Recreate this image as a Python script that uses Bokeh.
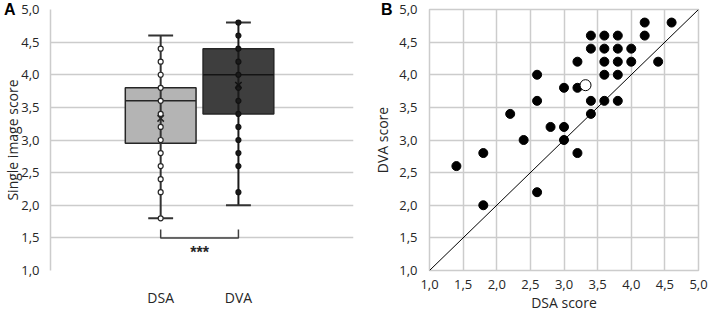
from bokeh.plotting import figure
from bokeh.layouts import row
from bokeh.models import Range1d, FixedTicker, CustomJSTickFormatter, LinearAxis
from bokeh.embed import file_html
from bokeh.resources import INLINE

# ---------------- Panel A data (box plots) ----------------
categories = ["DSA", "DVA"]
cat_pos = [1.0, 2.0]
q1 = [2.95, 3.4]
median = [3.6, 4.0]
q3 = [3.8, 4.4]
whisker_low = [1.8, 2.0]
whisker_high = [4.6, 4.8]
means = [3.33, 3.84]
dsa_points = [1.8, 2.2, 2.4, 2.6, 2.8, 3.0, 3.2, 3.4, 3.6, 3.8, 4.0, 4.2, 4.4]
dva_points = [2.2, 2.6, 2.8, 3.0, 3.2, 3.4, 3.6, 3.8, 4.0, 4.2, 4.4, 4.6, 4.8]
significance = "***"
sig_level = 1.5

# ---------------- Panel B data (scatter) ----------------
dsa_score = [1.4, 1.8, 1.8, 2.2, 2.4, 2.6, 2.6, 2.6, 2.8, 3.0, 3.0, 3.0,
             3.2, 3.2, 3.2, 3.4, 3.4, 3.4, 3.4, 3.6, 3.6, 3.6, 3.6, 3.6,
             3.8, 3.8, 3.8, 3.8, 3.8, 4.0, 4.0, 4.2, 4.2, 4.4, 4.6]
dva_score = [2.6, 2.8, 2.0, 3.4, 3.0, 4.0, 3.6, 2.2, 3.2, 3.8, 3.2, 3.0,
             4.2, 3.8, 2.8, 4.6, 4.4, 3.6, 3.4, 4.6, 4.4, 4.2, 4.0, 3.6,
             4.6, 4.4, 4.2, 4.0, 3.6, 4.4, 4.2, 4.8, 4.6, 4.2, 4.8]
mean_dsa = [3.32]
mean_dva = [3.84]
identity = [1.0, 5.0]
score_ticks = [1.0, 1.5, 2.0, 2.5, 3.0, 3.5, 4.0, 4.5, 5.0]
panel_letters = ["A", "B"]

FONT = "Open Sans"
TXT = "#262626"
GRID = "#cccccc"
EDGE = "#262626"
comma_fmt = CustomJSTickFormatter(code="return tick.toFixed(1).replace('.', ',');")


def style_axis(ax, label_size="13px"):
    ax.major_label_text_font = FONT
    ax.major_label_text_font_size = label_size
    ax.major_label_text_color = TXT
    ax.axis_label_text_font = FONT
    ax.axis_label_text_font_size = "14px"
    ax.axis_label_text_font_style = "normal"
    ax.axis_label_text_color = TXT
    ax.major_tick_line_color = None
    ax.minor_tick_line_color = None
    ax.major_tick_out = 0
    ax.major_tick_in = 0
    ax.minor_tick_out = 0
    ax.minor_tick_in = 0


def letter_axis(letter, standoff):
    # an extra outer left axis whose only tick label is the panel letter, level with the top tick
    ax = LinearAxis(ticker=FixedTicker(ticks=[score_ticks[-1]], minor_ticks=[]),
                    formatter=CustomJSTickFormatter(args=dict(letter=letter), code="return letter;"))
    style_axis(ax)
    ax.axis_line_color = None
    ax.major_label_standoff = standoff
    ax.major_label_text_font = "Liberation Sans"
    ax.major_label_text_font_style = "bold"
    ax.major_label_text_font_size = "16px"
    ax.major_label_text_color = "black"
    return ax


# ================= Panel A =================
p1 = figure(width=354, height=314, x_range=Range1d(-0.417, 3.48), y_range=Range1d(1, 5),
            output_backend="svg", toolbar_location=None,
            min_border_left=49, min_border_right=1, min_border_top=9, min_border_bottom=43)
p1.outline_line_color = None
p1.xgrid.visible = False
p1.ygrid.grid_line_color = GRID
p1.ygrid.grid_line_width = 1.5
style_axis(p1.yaxis[0])
style_axis(p1.xaxis[0], "14px")
p1.yaxis.ticker = FixedTicker(ticks=score_ticks, minor_ticks=[])
p1.yaxis.formatter = comma_fmt
p1.yaxis.axis_line_color = GRID
p1.yaxis.axis_line_width = 1.5
p1.yaxis.major_label_standoff = 11
p1.yaxis.axis_label = "Single image score"
p1.yaxis.axis_label_standoff = -4
p1.xaxis.ticker = FixedTicker(ticks=cat_pos, minor_ticks=[])
p1.xaxis.formatter = CustomJSTickFormatter(args=dict(pos=cat_pos, names=categories),
                                           code="const i = pos.indexOf(tick); return i >= 0 ? names[i] : '';")
p1.xaxis.axis_line_color = None
p1.xaxis.major_label_standoff = 17
p1.add_layout(letter_axis(panel_letters[0], -15), "left")

box_w = 0.91
cap_w = 0.32
p1.vbar(x=cat_pos, width=box_w, bottom=q1, top=q3,
        fill_color=["#b4b4b4", "#3e3e3e"], line_color=EDGE, line_width=1.5)
p1.segment(x0=[c - box_w / 2 for c in cat_pos], x1=[c + box_w / 2 for c in cat_pos],
           y0=median, y1=median, line_color=["#262626", "#141414"], line_width=1.5)
p1.segment(x0=cat_pos, x1=cat_pos, y0=whisker_low, y1=whisker_high,
           line_color=["#333333", "#1a1a1a"], line_width=2)
p1.segment(x0=[c - cap_w / 2 for c in cat_pos], x1=[c + cap_w / 2 for c in cat_pos],
           y0=whisker_low, y1=whisker_low, line_color="#333333", line_width=2)
p1.segment(x0=[c - cap_w / 2 for c in cat_pos], x1=[c + cap_w / 2 for c in cat_pos],
           y0=whisker_high, y1=whisker_high, line_color="#333333", line_width=2)
p1.scatter(x=[cat_pos[0]] * len(dsa_points), y=dsa_points, size=5,
           fill_color="white", line_color="#262626", line_width=1.2)
p1.scatter(x=[cat_pos[1]] * len(dva_points), y=dva_points, size=5,
           fill_color="#1a1a1a", line_color="#111111", line_width=1.2)
p1.scatter(x=cat_pos, y=means, marker="x", size=9, line_color=["#262626", "#111111"], line_width=1.5)

# significance bracket
p1.line(x=[cat_pos[0], cat_pos[0], cat_pos[1], cat_pos[1]],
        y=[sig_level + 0.13, sig_level, sig_level, sig_level + 0.13],
        line_color="#404040", line_width=1.5)
p1.text(x=[sum(cat_pos) / 2], y=[sig_level - 0.22], text=[significance],
        text_align="center", text_baseline="middle", text_font_size="16px",
        text_font_style="bold", text_color="#262626")

# ================= Panel B =================
p2 = figure(width=354, height=314, x_range=Range1d(1, 5), y_range=Range1d(1, 5),
            output_backend="svg", toolbar_location=None,
            min_border_left=75, min_border_right=10, min_border_top=9, min_border_bottom=43)
p2.outline_line_color = GRID
p2.outline_line_width = 1.5
for g in (p2.xgrid[0], p2.ygrid[0]):
    g.grid_line_color = GRID
    g.grid_line_width = 1.5
for ax in (p2.xaxis[0], p2.yaxis[0]):
    style_axis(ax)
    ax.ticker = FixedTicker(ticks=score_ticks, minor_ticks=[])
    ax.formatter = comma_fmt
    ax.axis_line_color = None
p2.yaxis.major_label_standoff = 12
p2.yaxis.axis_label = "DVA score"
p2.yaxis.axis_label_standoff = 4
p2.xaxis.major_label_standoff = 9
p2.xaxis.axis_label = "DSA score"
p2.xaxis.axis_label_standoff = 1
b_axis = letter_axis(panel_letters[1], -22)
b_axis.axis_label = " "
b_axis.axis_label_text_font_size = "1px"
b_axis.axis_label_standoff = 14
p2.add_layout(b_axis, "left")

p2.line(x=identity, y=identity, line_color="black", line_width=1)
p2.scatter(x=dsa_score, y=dva_score, size=9, fill_color="black", line_color="black")
p2.scatter(x=mean_dsa, y=mean_dva, size=11, fill_color="white", line_color="black", line_width=1)

layout = row(p1, p2)
open("out.html", "w").write(file_html(layout, INLINE))
